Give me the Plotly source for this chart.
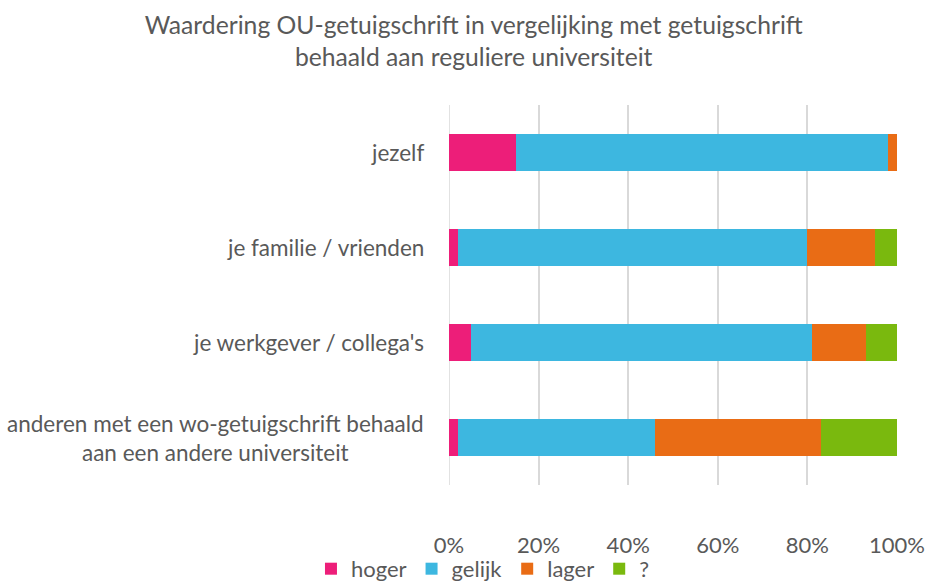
import plotly.graph_objects as go

categories = ["jezelf", "je familie / vrienden", "je werkgever / collega's",
              "anderen met een wo-getuigschrift behaald<br>aan een andere universiteit"]
hoger = [15, 2, 5, 2]
gelijk = [83, 78, 76, 44]
lager = [2, 15, 12, 37]
onbekend = [0, 5, 7, 17]
series_names = ["hoger", "gelijk", "lager", "?"]
colors = ["#ED1E79", "#3DB7E0", "#E96C15", "#7AB90E"]
tick_vals = [0, 0.2, 0.4, 0.6, 0.8, 1.0]
tick_text = ["0%", "20%", "40%", "60%", "80%", "100%"]
title_text = "Waardering OU-getuigschrift in vergelijking met getuigschrift<br>behaald aan reguliere universiteit"

font_family = "Lato, 'Open Sans', sans-serif"
grey = "#595959"

fig = go.Figure()
for name, vals, col in zip(series_names, [hoger, gelijk, lager, onbekend], colors):
    fig.add_trace(go.Bar(
        y=categories, x=[v / 100 for v in vals], name=name, orientation="h",
        marker=dict(color=col, line=dict(width=0)),
    ))

for i, cat in enumerate(categories):
    fig.add_annotation(
        x=0, xref="paper", y=cat, yref="y", text=cat, showarrow=False,
        xanchor="right", xshift=-23, align="center",
        font=dict(family=font_family, size=22.5, color=grey),
    )

fig.update_layout(
    barmode="stack",
    bargap=0.61,
    width=927, height=581,
    margin=dict(l=449, r=30, t=105, b=96, autoexpand=False),
    paper_bgcolor="white", plot_bgcolor="white",
    title=dict(text=title_text, x=0.511, xanchor="center", xref="container",
               yref="container", y=1 - 34 / 581, yanchor="middle",
               font=dict(family=font_family, size=24.7, color=grey)),
    font=dict(family=font_family, size=22, color=grey),
    legend=dict(orientation="h", xref="container", yref="paper",
                x=0.521, xanchor="center", y=(485 - 570) / 385, yanchor="middle",
                bgcolor="rgba(0,0,0,0)",
                font=dict(size=22, color=grey), traceorder="normal"),
    xaxis=dict(range=[0, 1], tickvals=tick_vals, ticktext=tick_text,
               showgrid=True, gridcolor="#D9D9D9", gridwidth=1.5,
               zeroline=False, showline=False, ticks="", automargin=False,
               ticklabelstandoff=45,
               tickfont=dict(size=22, color=grey)),
    yaxis=dict(autorange="reversed", showticklabels=False, showgrid=False,
               zeroline=False, showline=False, ticks="", automargin=False),
)
fig.add_vline(x=0, line=dict(color="#D9D9D9", width=1.5), layer="below")

fig.write_html("out.html", config={"displayModeBar": False},
               post_script="document.body.style.margin='0';")
